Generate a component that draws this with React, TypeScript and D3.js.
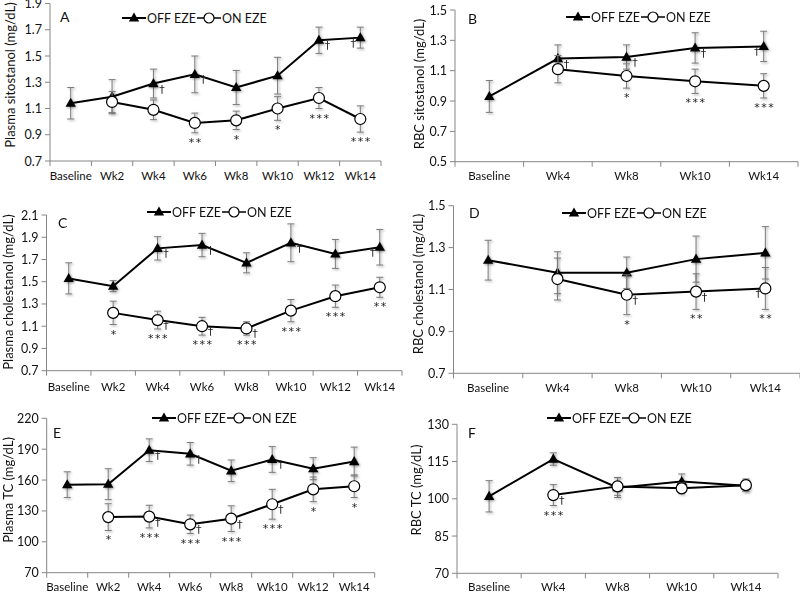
import * as d3 from "d3";

const weeksPlasma = ["Baseline", "Wk2", "Wk4", "Wk6", "Wk8", "Wk10", "Wk12", "Wk14"];
const weeksRbc = ["Baseline", "Wk4", "Wk8", "Wk10", "Wk14"];

// A: plasma sitostanol
const aTicks = [0.7, 0.9, 1.1, 1.3, 1.5, 1.7, 1.9];
const aOffMean = [1.14, 1.19, 1.29, 1.36, 1.26, 1.35, 1.62, 1.64];
const aOffSd = [0.12, 0.13, 0.11, 0.14, 0.13, 0.14, 0.1, 0.08];
const aOnMean = [null, 1.15, 1.09, 0.99, 1.01, 1.1, 1.18, 1.02];
const aOnSd = [null, 0.08, 0.075, 0.075, 0.07, 0.09, 0.08, 0.1];
const aOffDagger = [0, 0, 1, 1, 0, 0, 1, 1];
const aOnStars = ["", "", "", "**", "*", "*", "***", "***"];
const aOnDagger = [0, 0, 0, 0, 0, 0, 0, 0];

// B: RBC sitostanol
const bTicks = [0.5, 0.7, 0.9, 1.1, 1.3, 1.5];
const bOffMean = [0.93, 1.18, 1.19, 1.25, 1.26];
const bOffSd = [0.105, 0.09, 0.08, 0.1, 0.1];
const bOnMean = [null, 1.11, 1.065, 1.03, 1.0];
const bOnSd = [null, 0.09, 0.08, 0.08, 0.08];
const bOffDagger = [0, 1, 1, 1, 1];
const bOnStars = ["", "", "*", "***", "***"];
const bOnDagger = [0, 0, 0, 0, 0];

// C: plasma cholestanol
const cTicks = [0.7, 0.9, 1.1, 1.3, 1.5, 1.7, 1.9, 2.1];
const cOffMean = [1.53, 1.46, 1.8, 1.83, 1.67, 1.85, 1.75, 1.81];
const cOffSd = [0.14, 0.05, 0.105, 0.105, 0.09, 0.17, 0.13, 0.16];
const cOnMean = [null, 1.22, 1.155, 1.1, 1.08, 1.24, 1.37, 1.45];
const cOnSd = [null, 0.105, 0.08, 0.08, 0.06, 0.1, 0.1, 0.09];
const cOffDagger = [0, 0, 1, 1, 0, 1, 0, 1];
const cOnStars = ["", "*", "***", "***", "***", "***", "***", "**"];
const cOnDagger = [0, 0, 1, 1, 1, 0, 0, 0];

// D: RBC cholestanol
const dTicks = [0.7, 0.9, 1.1, 1.3, 1.5];
const dOffMean = [1.24, 1.18, 1.18, 1.245, 1.275];
const dOffSd = [0.095, 0.1, 0.075, 0.11, 0.125];
const dOnMean = [null, 1.15, 1.075, 1.09, 1.105];
const dOnSd = [null, 0.1, 0.095, 0.085, 0.1];
const dOffDagger = [0, 0, 0, 0, 0];
const dOnStars = ["", "", "*", "**", "**"];
const dOnDagger = [0, 0, 1, 1, 1];

// E: plasma TC
const eTicks = [70, 100, 130, 160, 190, 220];
const eOffMean = [155.5, 156, 189, 185.5, 169, 180, 171, 178];
const eOffSd = [12.5, 15, 11, 11, 10.5, 12.5, 10.7, 14];
const eOnMean = [null, 124, 124.5, 117, 122.5, 136.5, 151, 154];
const eOnSd = [null, 13, 11, 9, 12.5, 14.5, 12, 11];
const eOffDagger = [0, 0, 1, 1, 0, 1, 0, 0];
const eOnStars = ["", "*", "***", "***", "***", "***", "*", "*"];
const eOnDagger = [0, 0, 1, 1, 1, 1, 0, 0];

// F: RBC TC
const fTicks = [70, 85, 100, 115, 130];
const fOffMean = [101, 116, 104.5, 107, 105.3];
const fOffSd = [6.3, 2.5, 4, 3, 2.2];
const fOnMean = [null, 101.5, 105, 104.2, 105.5];
const fOnSd = [null, 4.2, 3.6, 2.2, 2.5];
const fOffDagger = [0, 0, 0, 0, 0];
const fOnStars = ["", "***", "", "", ""];
const fOnDagger = [0, 1, 0, 0, 0];

const FONT = "Lato, 'Open Sans', sans-serif";
const MARK_FONT = "'DejaVu Sans', sans-serif";
const AXIS = "#868686";
const ERR = "#7a7a7a";

const panels = [
  { letter: "A", cats: weeksPlasma, ticks: aTicks, title: "Plasma sitostanol (mg/dL)", off: aOffMean, offSd: aOffSd, on: aOnMean, onSd: aOnSd, offDag: aOffDagger, onStars: aOnStars, onDag: aOnDagger,
    x0: 50, x1: 381, y0: 161, y1: 3.5, labelY: 180, titleX: 10, titleY: 75, legend: [122, 18], letterPos: [60, 22] },
  { letter: "B", cats: weeksRbc, ticks: bTicks, title: "RBC sitostanol (mg/dL)", off: bOffMean, offSd: bOffSd, on: bOnMean, onSd: bOnSd, offDag: bOffDagger, onStars: bOnStars, onDag: bOnDagger,
    x0: 455, x1: 798, y0: 161.7, y1: 10, labelY: 180, titleX: 419, titleY: 84, legend: [566, 17], letterPos: [468, 24] },
  { letter: "C", cats: weeksPlasma, ticks: cTicks, title: "Plasma cholestanol (mg/dL)", off: cOffMean, offSd: cOffSd, on: cOnMean, onSd: cOnSd, offDag: cOffDagger, onStars: cOnStars, onDag: cOnDagger,
    x0: 46.5, x1: 402, y0: 370.7, y1: 215, labelY: 391, titleX: 8, titleY: 292, legend: [147, 212], letterPos: [58, 228] },
  { letter: "D", cats: weeksRbc, ticks: dTicks, title: "RBC cholestanol (mg/dL)", off: dOffMean, offSd: dOffSd, on: dOnMean, onSd: dOnSd, offDag: dOffDagger, onStars: dOnStars, onDag: dOnDagger,
    x0: 453.5, x1: 800, y0: 373.3, y1: 205.7, labelY: 392, titleX: 418, titleY: 284, legend: [562, 213], letterPos: [469, 218] },
  { letter: "E", cats: weeksPlasma, ticks: eTicks, title: "Plasma TC (mg/dL)", off: eOffMean, offSd: eOffSd, on: eOnMean, onSd: eOnSd, offDag: eOffDagger, onStars: eOnStars, onDag: eOnDagger,
    x0: 46.7, x1: 374.7, y0: 572.7, y1: 418.3, labelY: 591, titleX: 8, titleY: 490, legend: [152, 418], letterPos: [53, 438] },
  { letter: "F", cats: weeksRbc, ticks: fTicks, title: "RBC TC (mg/dL)", off: fOffMean, offSd: fOffSd, on: fOnMean, onSd: fOnSd, offDag: fOffDagger, onStars: fOnStars, onDag: fOnDagger,
    x0: 457, x1: 778, y0: 573.3, y1: 424.3, labelY: 591, titleX: 416, titleY: 490, legend: [547, 418], letterPos: [468, 438] },
];

const triPath = "M0,-5.5L5.2,3.6L-5.2,3.6Z";

function Legend({ x, y }) {
  return (
    <g fontFamily={FONT} fontSize={12.5} fill="#111">
      <line x1={x} x2={x + 24} y1={y} y2={y} stroke="#000" strokeWidth={2} />
      <path d={triPath} transform={`translate(${x + 12},${y})`} fill="#000" />
      <text x={x + 25} y={y + 4.5}>OFF EZE</text>
      <line x1={x + 75} x2={x + 99} y1={y} y2={y} stroke="#000" strokeWidth={1.5} />
      <circle cx={x + 87} cy={y} r={5} fill="#fff" stroke="#000" strokeWidth={1.2} />
      <text x={x + 100} y={y + 4.5}>ON EZE</text>
    </g>
  );
}

function Panel({ p }) {
  const x = d3.scaleBand().domain(p.cats).range([p.x0, p.x1]);
  const y = d3.scaleLinear().domain([p.ticks[0], p.ticks[p.ticks.length - 1]]).range([p.y0, p.y1]);
  const cx = (i) => x(p.cats[i]) + x.bandwidth() / 2;
  const fmt = p.ticks[0] < 10 ? d3.format(".1f") : d3.format("d");
  const last = p.cats.length - 1;

  const pts = (mean, sd) => mean.map((v, i) => ({ i, v, sd: sd[i] })).filter((d) => d.v != null);
  const offPts = pts(p.off, p.offSd);
  const onPts = pts(p.on, p.onSd);
  const line = d3.line().x((d) => cx(d.i)).y((d) => y(d.v));

  const errBars = (data) =>
    data.map((d) => {
      const X = cx(d.i);
      const top = y(d.v + d.sd);
      const bot = y(d.v - d.sd);
      return (
        <g key={d.i}>
          <line x1={X} x2={X} y1={top} y2={bot} />
          <line x1={X - 3.5} x2={X + 3.5} y1={top} y2={top} />
          <line x1={X - 3.5} x2={X + 3.5} y1={bot} y2={bot} />
        </g>
      );
    });

  const dagger = (d, k) => {
    const left = d.i === last;
    return (
      <text key={k + d.i} x={cx(d.i) + (left ? -7 : 8.5)} y={y(d.v) + 9} textAnchor="middle" fontSize={11}>
        †
      </text>
    );
  };

  return (
    <g>
      {/* axes */}
      <g stroke={AXIS} strokeWidth={1}>
        <line x1={p.x0} x2={p.x0} y1={p.y0} y2={p.y1} />
        <line x1={p.x0} x2={p.x1} y1={p.y0} y2={p.y0} />
        {p.ticks.map((t) => (
          <line key={t} x1={p.x0 - 5} x2={p.x0} y1={y(t)} y2={y(t)} />
        ))}
        {[...p.cats.map((c) => x(c)), p.x1].map((v, i) => (
          <line key={i} x1={v} x2={v} y1={p.y0} y2={p.y0 + 5} />
        ))}
      </g>
      <g fontFamily={FONT} fontSize={12.5} fill="#111">
        {p.ticks.map((t) => (
          <text key={t} x={p.x0 - 8} y={y(t) + 4.5} textAnchor="end">
            {fmt(t)}
          </text>
        ))}
      </g>
      <g fontFamily={FONT} fontSize={11.5} fill="#111">
        {p.cats.map((c) => (
          <text key={c} x={x(c) + x.bandwidth() / 2} y={p.labelY} textAnchor="middle">
            {c}
          </text>
        ))}
      </g>
      <text
        transform={`translate(${p.titleX},${p.titleY}) rotate(-90)`}
        textAnchor="middle"
        dominantBaseline="central"
        fontFamily={FONT}
        fontSize={13}
        fill="#111"
      >
        {p.title}
      </text>
      <text x={p.letterPos[0]} y={p.letterPos[1]} fontFamily={FONT} fontSize={14} fill="#111">
        {p.letter}
      </text>
      <Legend x={p.legend[0]} y={p.legend[1]} />

      {/* OFF EZE */}
      <path d={line(offPts)} fill="none" stroke="#000" strokeWidth={2} />
      <g stroke={ERR} strokeWidth={1} filter="url(#soft)">
        {errBars(offPts)}
      </g>
      <g fill="#000" filter="url(#soft)">
        {offPts.map((d) => (
          <path key={d.i} d={triPath} transform={`translate(${cx(d.i)},${y(d.v)})`} />
        ))}
      </g>

      {/* ON EZE */}
      <path d={line(onPts)} fill="none" stroke="#000" strokeWidth={2} />
      <g stroke={ERR} strokeWidth={1} filter="url(#soft)">
        {errBars(onPts)}
      </g>
      <g fill="#fff" stroke="#000" strokeWidth={1.2}>
        {onPts.map((d) => (
          <circle key={d.i} cx={cx(d.i)} cy={y(d.v)} r={5.5} />
        ))}
      </g>

      {/* significance marks */}
      <g fontFamily={MARK_FONT} fill="#222">
        {offPts.filter((d) => p.offDag[d.i]).map((d) => dagger(d, "o"))}
        {onPts.filter((d) => p.onDag[d.i]).map((d) => dagger(d, "n"))}
        {onPts
          .filter((d) => p.onStars[d.i])
          .map((d) => (
            <text
              key={"s" + d.i}
              x={cx(d.i) + 1}
              y={y(d.v - d.sd) + 13}
              textAnchor="middle"
              fontSize={11}
              letterSpacing={1.5}
            >
              {p.onStars[d.i]}
            </text>
          ))}
      </g>
    </g>
  );
}

export default function App() {
  return (
    <svg
      width={800}
      height={593}
      viewBox="0 0 800 593"
      style={{ position: "absolute", left: 0, top: 0, background: "#fff" }}
    >
      <defs>
        <filter id="soft" x="-50%" y="-50%" width="200%" height="200%">
          <feDropShadow dx={1.2} dy={1.2} stdDeviation={1} floodColor="#000" floodOpacity={0.35} />
        </filter>
      </defs>
      <rect width={800} height={593} fill="#fff" />
      {panels.map((p) => (
        <Panel key={p.letter} p={p} />
      ))}
    </svg>
  );
}
